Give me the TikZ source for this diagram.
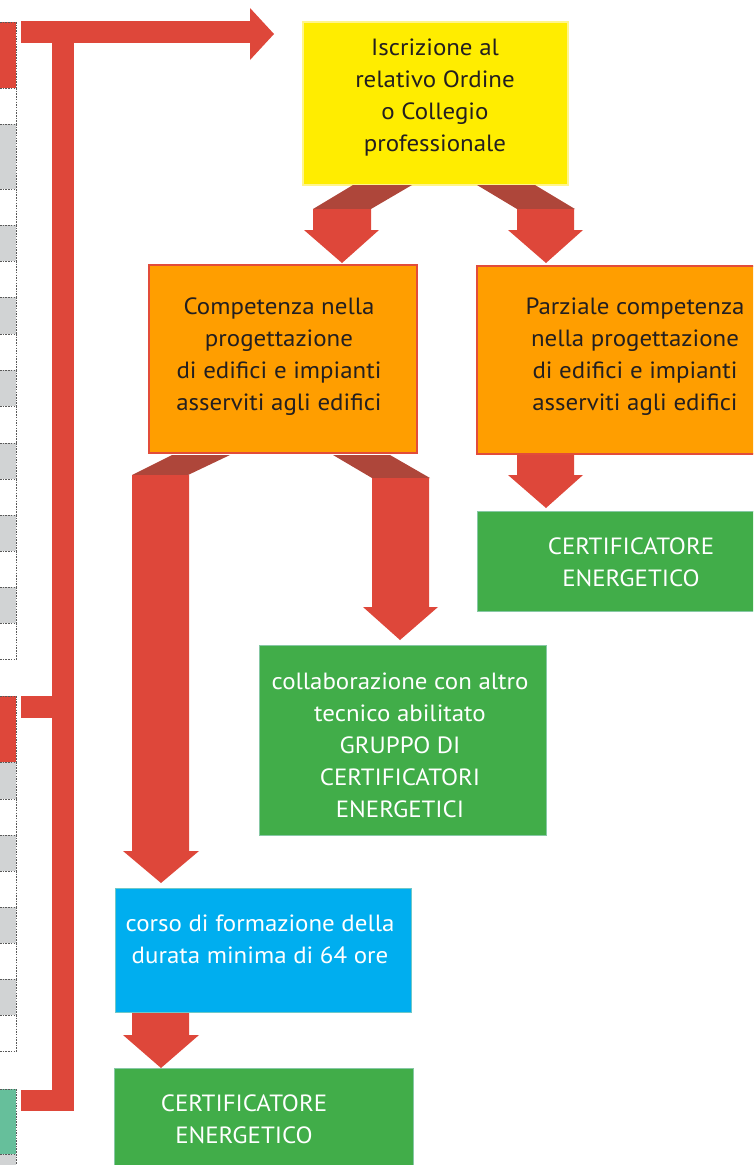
\documentclass[tikz,border=0pt]{standalone}
\usepackage{fontspec}
\setmainfont{PT Sans}[FakeStretch=1.06]
\definecolor{arrowred}{RGB}{222,71,58}
\definecolor{darkred}{RGB}{174,70,58}
\definecolor{boxyellow}{RGB}{255,237,0}
\definecolor{paleyellow}{RGB}{255,245,140}
\definecolor{boxorange}{RGB}{255,158,0}
\definecolor{orangeedge}{RGB}{226,76,58}
\definecolor{boxgreen}{RGB}{65,173,73}
\definecolor{greenedge}{RGB}{135,200,165}
\definecolor{boxblue}{RGB}{0,174,239}
\definecolor{blueedge}{RGB}{110,200,200}
\definecolor{cellgrey}{RGB}{209,211,212}
\definecolor{cellteal}{RGB}{102,191,155}
\definecolor{textdark}{RGB}{35,31,32}
\begin{document}
\begin{tikzpicture}[x=1pt,y=-1pt,
  box/.style={rectangle, inner sep=0pt, outer sep=0pt, anchor=north west},
  txt/.style={align=center, inner sep=0pt, font=\fontsize{23.5}{32}\selectfont},
  darktxt/.style={txt, text=textdark},
  whitetxt/.style={txt, text=white},
  cellline/.style={draw=black!65, line width=1pt, dash pattern=on 1.5pt off 1.2pt},
  redfill/.style={fill=arrowred},
  shadefill/.style={fill=darkred}]
\useasboundingbox (0,0) rectangle (753,1165);
\begin{scope}
\clip (0,0) rectangle (753,1165);
% ---- left strip of cells ----
\foreach \a/\b/\c in {22/88/arrowred,88/124/white,124/189/cellgrey,189/225/white,225/261/cellgrey,261/297/white,297/334/cellgrey,334/370/white,370/406/cellgrey,406/443/white,443/479/cellgrey,479/515/white,515/551/cellgrey,551/587/white,587/623/cellgrey,623/659/white,696/762/arrowred,762/799/cellgrey,799/835/white,835/871/cellgrey,871/907/white,907/943/cellgrey,943/979/white,979/1015/cellgrey,1015/1051/white,1089/1154/cellteal,1154/1170/cellgrey}{
  \fill[\c] (0,\a) rectangle (16,\b);
  \draw[cellline] (0,\a) -- (17,\a);
  \draw[cellline] (16,\a) -- (16,\b);
}
\draw[cellline] (0,659) -- (17,659);
\draw[cellline] (0,1051) -- (17,1051);

% ---- boxes ----
\node[box, fill=boxyellow, draw=paleyellow, line width=1.5pt, minimum width=265pt, minimum height=163pt] (iscr) at (303,22) {};
\node[box, fill=boxorange, draw=orangeedge, line width=2pt, minimum width=268pt, minimum height=188pt] (compL) at (149,265) {};
\node[box, fill=boxorange, draw=orangeedge, line width=2pt, minimum width=290pt, minimum height=188pt] (compR) at (477,266) {};
\node[box, fill=boxgreen, draw=greenedge, line width=1pt, minimum width=290pt, minimum height=100pt] (certR) at (477,511) {};
\node[box, fill=boxgreen, draw=greenedge, line width=1pt, minimum width=287pt, minimum height=190pt] (collab) at (259,645) {};
\node[box, fill=boxblue, draw=blueedge, line width=1pt, minimum width=296pt, minimum height=124pt] (corso) at (115,888) {};
\node[box, fill=boxgreen, draw=greenedge, line width=1pt, minimum width=299pt, minimum height=110pt] (certB) at (114,1068) {};

% ---- texts ----
\node[darktxt] (iscrT) at (435,98) {Iscrizione al\\relativo Ordine\\o Collegio\\professionale};
\node[darktxt] (compLT) at (279,357) {Competenza nella\\progettazione\\di edifici e impianti\\asserviti agli edifici};
\node[darktxt] (compRT) at (635,357) {Parziale competenza\\nella progettazione\\di edifici e impianti\\asserviti agli edifici};
\node[whitetxt] (certRT) at (631,562) {CERTIFICATORE\\ENERGETICO};
\node[whitetxt] (collabT) at (400,745) {collaborazione con altro\\tecnico abilitato\\GRUPPO DI\\CERTIFICATORI\\ENERGETICI};
\node[whitetxt] (corsoT) at (260,939) {corso di formazione della\\durata minima di 64 ore};
\node[whitetxt] (certBT) at (244,1119) {CERTIFICATORE\\ENERGETICO};

% ---- left collector arrow ----
\fill[redfill] (21,21) rectangle (250,43);
\fill[redfill] (250,8) -- (274,34) -- (250,60) -- cycle;
\fill[redfill] (52,21) rectangle (74,1111);
\fill[redfill] (21,696) rectangle (74,718);
\fill[redfill] (21,1090) rectangle (74,1111);

% ---- iscr -> compL ----
\fill[shadefill] (353,185) -- (412,185) -- (371,209) -- (313,209) -- cycle;
\fill[redfill] (313,209) -- (371,209) -- (371,230) -- (379,230) -- (342,263) -- (304,230) -- (313,230) -- cycle;
% ---- iscr -> compR ----
\fill[shadefill] (477,185) -- (535,185) -- (575,209) -- (517,209) -- cycle;
\fill[redfill] (517,209) -- (574,209) -- (574,230) -- (583,230) -- (546,263) -- (508,230) -- (517,230) -- cycle;
% ---- compL -> corso ----
\fill[shadefill] (172,455) -- (230,455) -- (188,475) -- (132,475) -- cycle;
\fill[redfill] (132,475) -- (189,475) -- (189,851) -- (199,851) -- (161,883) -- (123,851) -- (132,851) -- cycle;
% ---- compL -> collab ----
\fill[shadefill] (333,455) -- (390,455) -- (430,478) -- (372,478) -- cycle;
\fill[redfill] (372,478) -- (429,478) -- (429,607) -- (438,607) -- (400,640) -- (363,607) -- (372,607) -- cycle;
% ---- compR -> certR ----
\fill[redfill] (517,455) -- (574,455) -- (574,475) -- (583,475) -- (546,508) -- (508,475) -- (517,475) -- cycle;
% ---- corso -> certB ----
\fill[redfill] (132,1013) -- (189,1013) -- (189,1035) -- (199,1035) -- (161,1068) -- (123,1035) -- (132,1035) -- cycle;
\end{scope}
\end{tikzpicture}
\end{document}
